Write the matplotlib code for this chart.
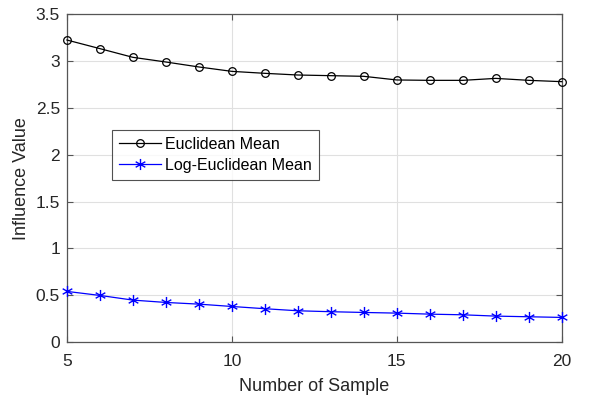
import numpy as np
import matplotlib
matplotlib.use('Agg')
from matplotlib import pyplot as plt
from matplotlib.path import Path

plt.rcParams['font.family'] = ['Liberation Sans', 'DejaVu Sans']

samples = np.arange(5, 21)
euclid = [3.226, 3.134, 3.041, 2.991, 2.938, 2.891, 2.870, 2.852,
          2.845, 2.838, 2.799, 2.795, 2.795, 2.816, 2.795, 2.781]
log_euclid = [0.540, 0.497, 0.447, 0.422, 0.404, 0.379, 0.355, 0.333,
              0.323, 0.315, 0.308, 0.297, 0.290, 0.276, 0.269, 0.262]

# line asterisk marker (vertical stroke plus two diagonals)
c, s = np.cos(np.pi / 6), np.sin(np.pi / 6)
star = Path([(0, -1), (0, 1), (-c, -s), (c, s), (-c, s), (c, -s)],
            [Path.MOVETO, Path.LINETO] * 3)

fig = plt.figure(figsize=(6.08, 3.99), dpi=100)
ax = fig.add_axes([0.110, 0.143, 0.814, 0.821])

ax.plot(samples, euclid, '-o', color='black', lw=0.9, ms=5.5,
        mfc='none', mew=0.9, label='Euclidean Mean', clip_on=False, zorder=3)
ax.plot(samples, log_euclid, '-', marker=star, color='blue', lw=0.9, ms=8,
        mew=1.0, label='Log-Euclidean Mean', clip_on=False, zorder=3)

ax.set_xlim(5, 20)
ax.set_ylim(0, 3.5)
ax.set_xticks([5, 10, 15, 20])
ax.set_yticks(np.arange(0, 3.51, 0.5))
ax.set_yticklabels(['0', '0.5', '1', '1.5', '2', '2.5', '3', '3.5'])

ax.grid(True, color='#e0e0e0', lw=0.8)
ax.set_axisbelow(True)
for sp in ax.spines.values():
    sp.set_color('#555555')
    sp.set_linewidth(0.9)
ax.tick_params(direction='in', length=4, width=0.8, colors='#555555',
               labelcolor='#262626', labelsize=12.5, top=True, right=True)
ax.tick_params(axis='x', pad=9)
ax.tick_params(axis='y', pad=5)

ax.set_xlabel('Number of Sample', fontsize=13, color='#262626', labelpad=6)
ax.set_ylabel('Influence Value', fontsize=13, color='#262626', labelpad=4)

leg = ax.legend(loc='lower left', bbox_to_anchor=(0.091, 0.495), fontsize=11.5,
                frameon=True, fancybox=False, edgecolor='#262626',
                borderpad=0.45, handlelength=2.6, handletextpad=0.3,
                labelspacing=0.35, borderaxespad=0)
leg.get_frame().set_linewidth(0.8)

fig.savefig('out.png', dpi=100)
